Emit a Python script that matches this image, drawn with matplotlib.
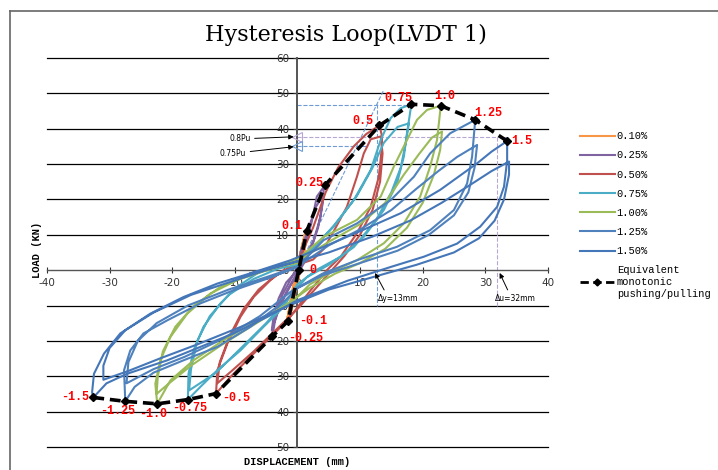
import numpy as np
import matplotlib
matplotlib.use('Agg')
import matplotlib.pyplot as plt
from matplotlib.ticker import MultipleLocator, FuncFormatter
from matplotlib.lines import Line2D

plt.rcParams['axes.unicode_minus'] = False

# ── hysteresis loops, (displacement mm, load kN) ─────────────────────────────
loop_010 = [(0, 0), (0.8, 6), (1.5, 11.1), (1.0, 6), (0.3, 0), (-0.5, -6), (-1.5, -14.4),
            (-0.8, -7), (0, 0), (0.9, 7), (1.4, 10.5), (0.8, 4), (-0.3, -4), (-1.4, -13.5),
            (-0.6, -6), (0, 0)]

loop_025 = [(0, 0), (1.0, 6), (2.2, 13), (3.1, 20.8), (4.4, 24), (4.2, 22.7), (3.7, 15.1),
            (2.6, 8.5), (1.0, 2.8), (-0.3, -1.5), (-1.6, -5.7), (-2.8, -10), (-3.6, -14.5),
            (-4.0, -18.7), (-3.9, -16), (-3.4, -12), (-2.4, -7), (-1.2, -3), (0, 1), (0.6, 5.7),
            (1.8, 12), (3.0, 18), (4.2, 21.5), (4.0, 18.5), (3.3, 12), (2.0, 5), (0.4, 0),
            (-1.0, -4), (-2.2, -8), (-3.4, -13), (-4.1, -17), (-3.8, -13), (-3.0, -8),
            (-1.8, -3.5), (0, 0)]

loop_050 = [(0, 2), (2.5, 12), (4.5, 22), (6.5, 29), (9, 35), (11, 38.5), (13.1, 40.9),
            (13.5, 38), (13.5, 34.9), (13, 26.4), (11.7, 17.9), (9.5, 10.4), (6.9, 3.8), (4.7, 0),
            (2.1, -5.7), (-1.6, -14.2), (-4.8, -19.8), (-7.5, -24.5), (-10.7, -30.2), (-13, -34.9),
            (-12.8, -28.3), (-11.2, -20.8), (-9.1, -13.2), (-7, -7.6), (-4.3, -2.8), (-2.2, 0),
            (0, 1.5), (2.5, 3), (4.2, 6), (5.8, 11), (7.9, 17.9), (9.5, 26.4), (10.6, 33),
            (11.7, 37), (13.3, 37.8), (13.6, 33), (13.2, 25), (12, 17), (10, 10), (7.5, 4),
            (5.5, 0), (3, -5), (0, -11), (-3.5, -17), (-7, -23), (-10.5, -28.5), (-12.8, -32),
            (-12.4, -26), (-10.8, -18.5), (-8.6, -11), (-6.2, -5.5), (-3.5, -1.5), (0, 1)]

loop_075 = [(0, 2.5), (2.2, 5.7), (5.8, 12.3), (9.0, 19.8), (11.7, 28.3), (13.3, 36.8),
            (14.9, 43.0), (16.5, 45.8), (18.2, 46.9), (17.5, 38.7), (17.0, 32.1), (15.9, 24.5),
            (13.8, 17.0), (10.6, 9.4), (6.9, 3.8), (3.0, 0), (0, -4), (-2.2, -10.4), (-5.4, -16),
            (-9.1, -22.7), (-12.8, -28.3), (-15.5, -33), (-17.5, -36.6), (-17.4, -29.3),
            (-16.6, -22.7), (-15.0, -16), (-12.3, -9.4), (-9.6, -4.7), (-6.4, -0.9), (-3.0, 1.5),
            (0, 2.5), (2.5, 6), (6.0, 13), (9.5, 21), (12.0, 29), (13.8, 36), (16.0, 40.5),
            (17.8, 41.5), (17.3, 36), (16.5, 29), (15.0, 22), (12.5, 14), (9.0, 6.5), (5.0, 1.5),
            (1.5, -2), (-1.5, -8), (-5.0, -15), (-9.0, -22), (-13.0, -29), (-17.3, -34),
            (-17.0, -28), (-16.0, -20), (-14.0, -13), (-11.0, -7), (-7.0, -2.5), (-3.0, 0.5),
            (0, 1.5)]

loop_100 = [(-4.8, 0), (0, 3), (4.2, 9.4), (9.5, 14.2), (13.3, 20.8), (15.4, 29.3), (17.5, 36.8),
            (19.1, 42.5), (20.7, 45.3), (22.9, 46.5), (22.3, 36.8), (21.2, 29.3), (19.6, 20.8),
            (17, 13.2), (13.8, 7.6), (9.5, 2.8), (6, 0), (2, -4), (-1.1, -9.4), (-6.4, -14.2),
            (-11.8, -19.8), (-16.6, -25.5), (-20.3, -31.2), (-22.4, -37.8), (-22.7, -32.1),
            (-21.9, -25.5), (-20.3, -18.9), (-17.6, -12.3), (-13.9, -6.6), (-9.6, -2.8),
            (-4.8, 0), (0, 2.5), (5, 8), (10, 13), (14, 19), (17, 27), (19.5, 33), (21.5, 37.5),
            (23.1, 39.2), (22.8, 34), (21.8, 27), (20, 19), (17.5, 12), (14, 6), (10, 2), (6, -1),
            (2, -5), (-2, -10), (-7, -15.5), (-12, -21), (-17, -27), (-20.5, -32), (-22.5, -35),
            (-22.3, -30), (-21.5, -23), (-19.5, -16), (-16.5, -10), (-12.5, -5), (-8, -1.5),
            (-3, 1), (0, 2)]

loop_125 = [(-4.8, -2.4), (0, 0.9), (4.2, 8.5), (9.5, 13.2), (14.9, 19.8), (18.6, 26.4),
            (21.2, 33), (24.4, 38.7), (28.4, 42.5), (27.9, 32.1), (27.1, 24.5), (25, 17),
            (21.2, 11.3), (15.9, 6.6), (9.5, 2.8), (4, -1), (0, -5), (-2.2, -9), (-7.5, -16),
            (-12.8, -21.7), (-18.2, -25.5), (-23, -29), (-26, -33), (-27.5, -37.1),
            (-27.7, -28.3), (-26.7, -22.7), (-24.6, -17.9), (-20.8, -14.2), (-15.5, -9.4),
            (-10.2, -5.7), (-4.8, -2.4), (0, 1), (5, 7), (10, 11.5), (15, 17), (19, 23),
            (22.5, 28), (25.5, 32), (28.7, 35.4), (28.3, 29), (27.3, 22), (25, 15.5), (21, 10),
            (16, 5.5), (10, 2), (4, -1.5), (-1, -6), (-6, -13), (-12, -19.5), (-18, -24.5),
            (-23, -28), (-27.3, -32), (-27, -26), (-25.5, -20), (-22.5, -15), (-17.5, -10),
            (-11, -5.5), (-5, -2), (0, 1)]

loop_150 = [(-7.5, -0.9), (-1.1, 2.8), (4.2, 6.6), (10, 11), (16.5, 16.1), (22.8, 22.7),
            (28.7, 30.2), (31, 33.5), (33.5, 36.5), (33.5, 31), (33, 23.6), (31.9, 17.9),
            (29.2, 12.3), (25.5, 7.5), (20.2, 3.8), (14.9, 0.9), (8, -3), (0, -8.5),
            (-4.8, -13.2), (-10.2, -17.9), (-15.5, -21.7), (-20.8, -25.5), (-27.2, -29.3),
            (-30.5, -32), (-32.6, -36), (-32.8, -34.5), (-32.5, -29.3), (-30.9, -23.6),
            (-28.3, -17.9), (-23.5, -12.3), (-18.2, -7.6), (-12.8, -3.8), (-7.5, -0.9), (-1, 2),
            (5, 5), (12, 9.5), (18, 14), (23, 19), (27.5, 24), (31, 28), (33.8, 30.7),
            (33.8, 27), (33, 20), (31.5, 14), (29, 9), (25, 5), (19, 1.5), (12, -2), (5, -5.5),
            (-2, -10.5), (-9, -16), (-16, -21), (-22, -25), (-27, -28.5), (-31, -31),
            (-31, -27), (-30, -22), (-27.5, -17), (-23, -12), (-17, -7), (-11, -3.5), (-5, 0),
            (0, 2.5)]

series_labels = ['0.10%', '0.25%', '0.50%', '0.75%', '1.00%', '1.25%', '1.50%']
series_loops = [loop_010, loop_025, loop_050, loop_075, loop_100, loop_125, loop_150]

# equivalent monotonic pushing/pulling envelope
env_x = [-32.6, -27.5, -22.4, -17.5, -13.0, -4.0, -1.5, 0.2, 1.5, 4.4, 13.1, 18.2, 22.9, 28.4, 33.5]
env_y = [-36.0, -37.1, -37.8, -36.6, -34.9, -18.7, -14.4, 0.0, 11.1, 24.0, 40.9, 46.9, 46.5, 42.5, 36.5]
env_labels = ['-1.5', '-1.25', '-1.0', '-0.75', '-0.5', '-0.25', '-0.1', '0',
              '0.1', '0.25', '0.5', '0.75', '1.0', '1.25', '1.5']

# reference levels
Pu = 46.9
load_08pu = 37.6
load_075pu = 35.2
delta_y = 12.7
delta_u = 31.9

colors = ['#F79646', '#8064A2', '#C0504D', '#4BACC6', '#9BBB59', '#4F81BD', '#4577B8']
widths = [3.0, 1.5, 1.5, 1.5, 1.5, 1.5, 1.5]
# label offsets in points: (dx, dy, ha)
lbl_off = [(-3, 0, 'right'), (-18, -7, 'left'), (-13, -7.5, 'left'), (-11, -6, 'left'),
           (4.5, -3, 'left'), (11, -1, 'left'), (8, 0, 'left'), (8, 0, 'left'),
           (-3, 3.5, 'right'), (-1.5, 1.5, 'right'), (-4.5, 3, 'right'), (1, 4.5, 'right'),
           (-5, 7, 'left'), (-1, 5, 'left'), (3, 0, 'left')]

fig = plt.figure(figsize=(7.18, 4.70), dpi=100)
ax = fig.add_axes([0.0655, 0.049, 0.6975, 0.8277])
ax.set_xlim(-40, 40)
ax.set_ylim(-50, 60)

# axes through the origin, Excel style
for s in ('top', 'right'):
    ax.spines[s].set_visible(False)
ax.spines['left'].set_position(('data', 0))
ax.spines['bottom'].set_position(('data', 0))
ax.spines['left'].set_color('#555555')
ax.spines['left'].set_linewidth(1.4)
ax.spines['bottom'].set_color('#555555')
ax.spines['bottom'].set_linewidth(1.0)
ax.xaxis.set_major_locator(MultipleLocator(10))
ax.yaxis.set_major_locator(MultipleLocator(10))
ax.yaxis.set_major_formatter(FuncFormatter(lambda v, p: '%d' % abs(v)))
ax.tick_params(axis='x', direction='inout', length=4, labelsize=7.5, colors='#333333', pad=4)
ax.tick_params(axis='y', direction='out', length=3, labelsize=7.5, colors='#333333', pad=3)
for yv in range(-50, 61, 10):
    if yv != 0:
        ax.axhline(yv, color='black', lw=0.9, zorder=0, clip_on=False)

# ── loops ────────────────────────────────────────────────────────────────────
for pts, c, lw, lab in zip(series_loops, colors, widths, series_labels):
    xy = np.array(pts)
    ax.plot(xy[:, 0], xy[:, 1], color=c, lw=lw, solid_joinstyle='round', zorder=3)

# ── helper dashed lines ──────────────────────────────────────────────────────
pc, bc = '#B7A6D3', '#6E9BD3'
ax.plot([0, 33.5], [load_08pu, load_08pu], color=pc, ls='--', lw=0.8, zorder=2)
ax.plot([delta_u, delta_u], [load_08pu, -10], color=pc, ls='--', lw=0.8, zorder=2)
ax.plot([0, 18.2], [Pu - 0.2, Pu - 0.2], color=bc, ls='--', lw=0.8, zorder=2)
ax.plot([0, 10.9], [load_075pu, load_075pu], color=bc, ls='--', lw=0.8, zorder=2)
ax.plot([delta_y, delta_y], [Pu, -10], color=bc, ls='--', lw=0.8, zorder=2)
ax.plot([0, 13.8], [0, 51], color=bc, ls='--', lw=0.8, zorder=2)
ax.plot([0], [load_08pu], marker='<', ms=7, mfc='none', mec=pc, mew=0.8, zorder=4)
ax.plot([0], [load_075pu], marker='<', ms=7, mfc='none', mec=bc, mew=0.8, zorder=4)

# ── envelope ─────────────────────────────────────────────────────────────────
ax.plot(env_x, env_y, color='black', ls=(0, (3, 1.6)), lw=2.6, marker='D', ms=4.5,
        zorder=6)
for x, y, t, (dx, dy, ha) in zip(env_x, env_y, env_labels, lbl_off):
    ax.annotate(t, (x, y), xytext=(dx, dy), textcoords='offset points', ha=ha, va='center',
                color='red', fontsize=8.5, fontweight='bold', family='Liberation Mono',
                zorder=7)

# ── annotations ──────────────────────────────────────────────────────────────
arr = dict(arrowstyle='-|>', color='black', lw=0.7, mutation_scale=7, shrinkA=1, shrinkB=0)
ax.annotate('0.8Pu', xy=(-0.6, 37.7), xytext=(-7.5, 37.1), ha='right', va='center',
            fontsize=5.5, arrowprops=arr, zorder=8)
ax.annotate('0.75Pu', xy=(-0.6, 34.9), xytext=(-8.2, 33.0), ha='right', va='center',
            fontsize=5.5, arrowprops=arr, zorder=8)
ax.annotate('\u0394y=13mm', xy=(12.4, -0.8), xytext=(12.9, -8.0), ha='left', va='center',
            fontsize=5.5, arrowprops=dict(arr, relpos=(0.2, 1.0)), zorder=8)
ax.annotate('\u0394u=32mm', xy=(32.3, -0.8), xytext=(31.6, -8.0), ha='left', va='center',
            fontsize=5.5, arrowprops=dict(arr, relpos=(0.35, 1.0)), zorder=8)

# ── legend ───────────────────────────────────────────────────────────────────
handles = [Line2D([], [], color=c, lw=1.5) for c in colors]
handles.append(Line2D([], [], color='black', ls=(0, (3, 1.6)), lw=2, marker='D', ms=3.5))
labels = series_labels + ['Equivalent\nmonotonic\npushing/pulling']
fig.legend(handles, labels, loc='upper left', bbox_to_anchor=(575 / 718, 1 - 126 / 470),
           frameon=False, prop={'family': 'Liberation Mono', 'size': 7.5},
           handlelength=3.3, handletextpad=0.2, labelspacing=0.88, borderpad=0)

# ── titles / frame ───────────────────────────────────────────────────────────
fig.text(346 / 718, 1 - 35 / 470, 'Hysteresis Loop(LVDT 1)', ha='center', va='center',
         fontsize=16, family='DejaVu Serif')
fig.text(37 / 718, 1 - 250 / 470, 'LOAD (KN)', rotation=90, ha='center', va='center',
         fontsize=7.5, fontweight='bold', family='Liberation Mono')
fig.text(297 / 718, 1 - 462 / 470, 'DISPLACEMENT (mm)', ha='center', va='center',
         fontsize=7.5, fontweight='bold', family='Liberation Mono')
fig.add_artist(Line2D([10 / 718, 10 / 718], [0, 1 - 11 / 470], color='#666666', lw=1.2))
fig.add_artist(Line2D([10 / 718, 1], [1 - 11 / 470, 1 - 11 / 470], color='#666666', lw=1.2))

fig.savefig('out.png', dpi=100)
